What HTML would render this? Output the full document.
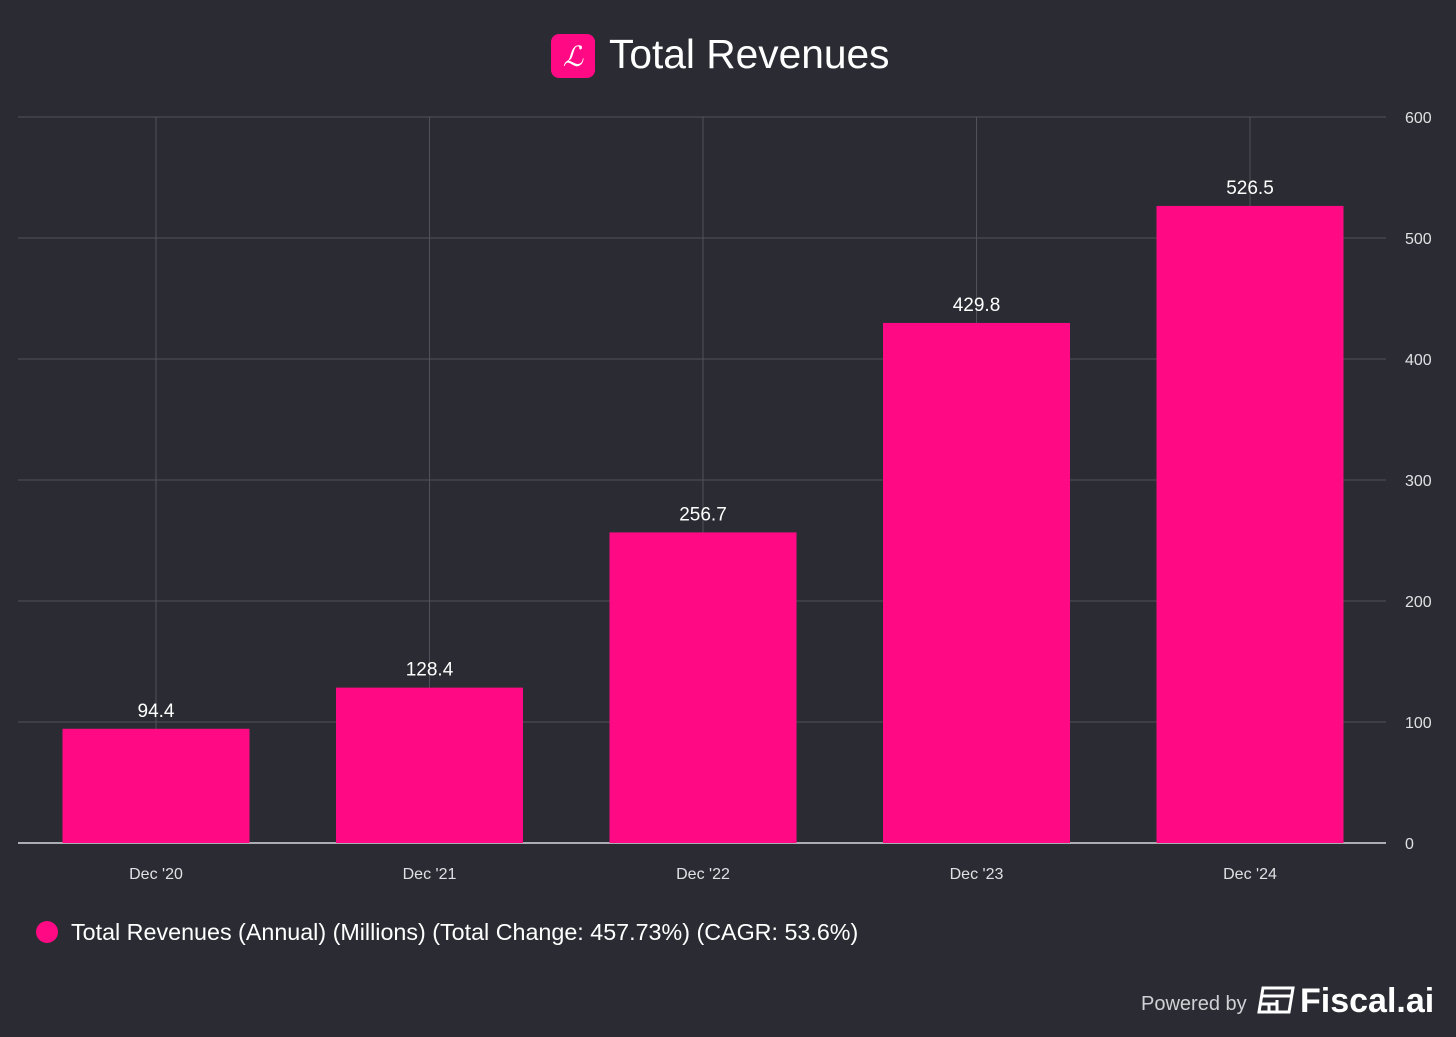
<!DOCTYPE html>
<html><head><meta charset="utf-8"><style>
html,body{margin:0;padding:0;background:#2b2c33;}
body{width:1456px;height:1032px;overflow:hidden;font-family:"Liberation Sans",sans-serif;}
</style></head><body>
<svg id="chart" width="1456" height="1032" xmlns="http://www.w3.org/2000/svg">
<rect width="1456" height="1032" fill="#2b2c33"/>
<g>
<rect x="551" y="34" width="44" height="44" rx="8" fill="#ff0a84"/>
<text x="573" y="66" text-anchor="middle" fill="#fff" font-family="Liberation Serif,serif" font-style="italic" font-size="28">ℒ</text>
<text x="609" y="68" fill="#fff" font-size="40.7">Total Revenues</text>
</g>
<g id="grid"></g>
<g id="bars"></g>
<g>
<circle cx="47" cy="932" r="11" fill="#ff0a84"/>
<text x="71" y="940" fill="#fff" font-size="23.3">Total Revenues (Annual) (Millions) (Total Change: 457.73%) (CAGR: 53.6%)</text>
</g>
<g>
<text x="1141" y="1010" fill="#d0d0d5" font-size="20">Powered by</text>
<g fill="none" stroke="#fff" stroke-width="3">
<path d="M1263 988 h30 l-4 24 h-30 z"/><path d="M1262 996 h30 M1261 1004 h16 M1269 1004 v8 M1277 1000 v12"/>
</g>
<text x="1300" y="1012" fill="#fff" font-size="34" font-weight="bold">Fiscal.ai</text>
</g>
</svg>
<script>
const categories=["Dec '20","Dec '21","Dec '22","Dec '23","Dec '24"];
const values=[94.4,128.4,256.7,429.8,526.5];
const yTicks=[0,100,200,300,400,500,600];
const NS="http://www.w3.org/2000/svg";
const x0=18,x1=1386,y0=843,yTop=117,yMax=600;
const y=v=>y0-(v/yMax)*(y0-yTop);
const step=273.5,firstC=156,bw=187;
const xc=i=>firstC+i*step;
function mk(tag,attrs,parent){const e=document.createElementNS(NS,tag);for(const k in attrs)e.setAttribute(k,attrs[k]);parent.appendChild(e);return e;}
const grid=document.getElementById('grid'),bars=document.getElementById('bars');
yTicks.forEach(t=>{
  const l=mk('line',{x1:x0,x2:x1,y1:y(t),y2:y(t),stroke:t===0?'#d8d8dc':'#50515a','stroke-width':t===0?1.5:1},grid);
  
  
  const tx=mk('text',{x:1405,y:y(t)+6,fill:'#e0e0e4','font-size':16},grid);
  tx.textContent=t;
  
  
});
categories.forEach((c,i)=>{
  const l=mk('line',{x1:xc(i),x2:xc(i),y1:yTop,y2:y0,stroke:'#50515a','stroke-width':1},grid);
  
  
  const tx=mk('text',{x:xc(i),y:879,fill:'#e0e0e4','font-size':16,'text-anchor':'middle'},grid);
  tx.textContent=c;
  
  
  const r=mk('rect',{x:xc(i)-bw/2,y:y(values[i]),width:bw,height:y0-y(values[i]),fill:'#ff0a84'},bars);
  
  
  const vl=mk('text',{x:xc(i),y:y(values[i])-12,fill:'#fff','font-size':19,'text-anchor':'middle'},bars);
  vl.textContent=values[i].toFixed(1);
  
  
});
</script>
</body></html>
